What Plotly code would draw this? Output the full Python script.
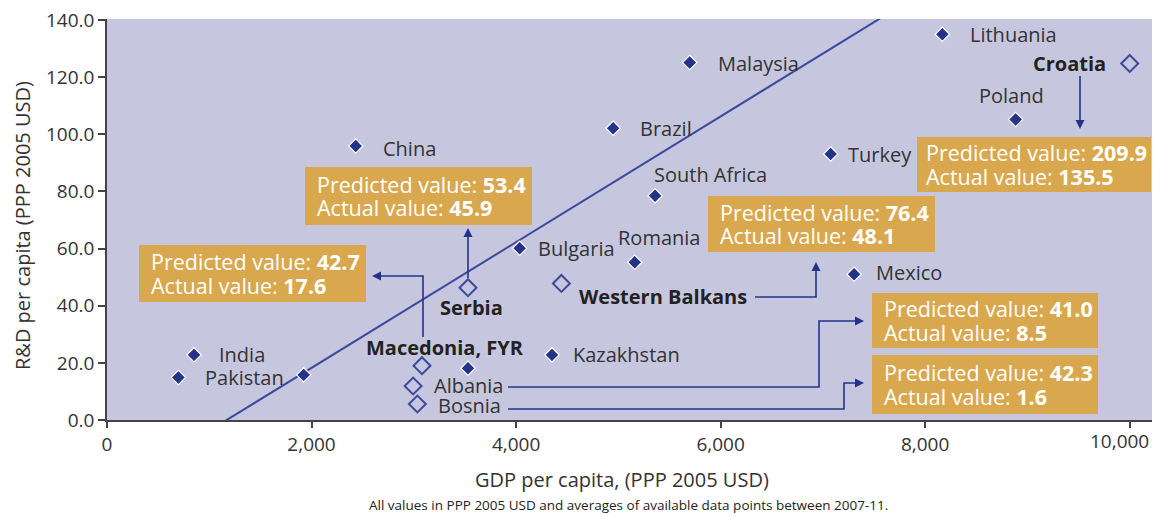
import plotly.graph_objects as go

# ---------------- data ----------------
bench_names = ["China", "India", "Pakistan", "", "Malaysia", "Brazil", "South Africa",
               "Bulgaria", "Romania", "Kazakhstan", "", "Lithuania", "Poland", "Turkey", "Mexico"]
bench_gdp = [2432, 851, 698, 1923, 5698, 4949, 5359, 4035, 5160, 4351, 3530, 8168, 8885, 7076, 7305]
bench_rnd = [95.9, 22.8, 14.9, 15.8, 125.1, 102.1, 78.5, 60.1, 55.2, 22.8, 18.1, 135.0, 105.2, 93.1, 51.0]

wb_names = ["Croatia", "Serbia", "Western Balkans", "Macedonia, FYR", "Albania", "Bosnia"]
wb_gdp = [10000, 3530, 4443, 3080, 2993, 3035]
wb_rnd = [124.8, 46.3, 47.8, 19.0, 11.9, 5.6]
wb_predicted = [209.9, 53.4, 76.4, 42.7, 41.0, 42.3]
wb_actual = [135.5, 45.9, 48.1, 17.6, 8.5, 1.6]

trend_slope = 0.022
trend_intercept = -25.75
trend_x = [1000, 8000]

x_ticks = [0, 2000, 4000, 6000, 8000, 10000]
x_tick_labels = ["0", "2,000", "4,000", "6,000", "8,000", "10,000"]
y_ticks = [0, 20, 40, 60, 80, 100, 120, 140]

# ---------------- style ----------------
FONT = "Open Sans"
NAVY = "#24338A"
LINE = "#3C4A9E"
GOLD = "#D9A84E"
BG = "#C6C7DE"
TXT = "#333333"

PAGE_W, PAGE_H = 1160, 517
OFF = 8                               # default body margin of the html page
W, H = PAGE_W - OFF, PAGE_H - OFF
PL, PR, PT, PB = 107, 1152, 19, 420   # plot area in page pixels


def px(x):
    return (x - PL) / (PR - PL)


def py(y):
    return (PB - y) / (PB - PT)


fig = go.Figure()

trend_y = [trend_intercept + trend_slope * v for v in trend_x]
fig.add_trace(go.Scatter(x=trend_x, y=trend_y, mode="lines",
                         line=dict(color=LINE, width=2), hoverinfo="skip", showlegend=False))

fig.add_trace(go.Scatter(x=bench_gdp, y=bench_rnd, mode="markers", text=bench_names,
                         marker=dict(symbol="diamond", size=11, color=NAVY,
                                     line=dict(color="white", width=1.2)),
                         showlegend=False))
fig.add_trace(go.Scatter(x=wb_gdp, y=wb_rnd, mode="markers", text=wb_names,
                         marker=dict(symbol="diamond-open", size=13, color=LINE,
                                     line=dict(color=LINE, width=2)),
                         showlegend=False))

annotations = []

# country labels: (xanchor, xshift, yshift)
label_pos = {
    "China": ("left", 25, -2),
    "India": ("left", 23, 0),
    "Pakistan": ("left", 25, 0),
    "Malaysia": ("left", 26, -1),
    "Brazil": ("left", 25, 0),
    "South Africa": ("left", -3, 21),
    "Bulgaria": ("left", 16, 0),
    "Romania": ("left", -19, 25),
    "Kazakhstan": ("left", 19, 0),
    "Lithuania": ("left", 26, 0),
    "Poland": ("center", -4, 24),
    "Turkey": ("left", 15, 0),
    "Mexico": ("left", 20, 2),
    "Croatia": ("right", -22, 0),
    "Serbia": ("center", 3, -20),
    "Western Balkans": ("left", 16, -13),
    "Macedonia, FYR": ("center", 23, 18),
    "Albania": ("left", 19, 1),
    "Bosnia": ("left", 19, -1),
}

for names, xs, ys, bold in [(bench_names, bench_gdp, bench_rnd, False),
                            (wb_names, wb_gdp, wb_rnd, True)]:
    for n, xv, yv in zip(names, xs, ys):
        if not n:
            continue
        bold_this = bold and n not in ("Albania", "Bosnia")
        xa, xs_, ys_ = label_pos[n]
        annotations.append(dict(
            x=xv, y=yv, xref="x", yref="y", text=f"<b>{n}</b>" if bold_this else n,
            showarrow=False, xanchor=xa, yanchor="middle", xshift=xs_, yshift=ys_,
            font=dict(family=FONT, size=20, color="#222" if bold_this else TXT)))

# callout boxes (page-pixel rectangles) in order of wb_names
box_rects = [(917, 137, 1151, 192), (305, 167, 532, 225), (708, 196, 935, 252),
             (139, 245, 366, 302), (872, 293, 1098, 348), (872, 355, 1098, 414)]
text_pad = [7, 10, 10, 10, 10, 10]

shapes = []
for (x0, y0, x1, y1), pad, pv, av in zip(box_rects, text_pad, wb_predicted, wb_actual):
    shapes.append(dict(type="rect", xref="paper", yref="paper",
                       x0=px(x0), x1=px(x1), y0=py(y1), y1=py(y0),
                       fillcolor=GOLD, line=dict(width=0), layer="above"))
    cy = (y0 + y1) / 2
    for txt, yy in [(f"Predicted value: <b>{pv:.1f}</b>", cy - 12),
                    (f"Actual value: <b>{av:.1f}</b>", cy + 12)]:
        annotations.append(dict(x=px(x0 + pad), y=py(yy), xref="paper", yref="paper",
                                text=txt, showarrow=False, xanchor="left", yanchor="middle",
                                font=dict(family=FONT, size=21.5, color="white")))

# connector arrows (page-pixel polylines) + heads
arrows = [
    ([(1080, 76), (1080, 121)], "down", (1080, 129)),
    ([(468, 278), (468, 236)], "up", (468, 228)),
    ([(755, 297), (816, 297), (816, 270)], "up", (816, 262)),
    ([(423, 337), (423, 276), (380, 276)], "left", (372, 276)),
    ([(508, 387), (819, 387), (819, 321), (856, 321)], "right", (864, 321)),
    ([(508, 409), (844, 409), (844, 383), (856, 383)], "right", (864, 383)),
]


def P(x, y):
    return f"{px(x):.5f},{py(y):.5f}"


for pts, d, (tx, ty) in arrows:
    path = "M " + " L ".join(P(x, y) for x, y in pts)
    shapes.append(dict(type="path", xref="paper", yref="paper", path=path,
                       line=dict(color=NAVY, width=1.6), layer="above"))
    L, hw = 9, 4.5
    if d == "up":
        tri = [(tx, ty), (tx - hw, ty + L), (tx + hw, ty + L)]
    elif d == "down":
        tri = [(tx, ty), (tx - hw, ty - L), (tx + hw, ty - L)]
    elif d == "left":
        tri = [(tx, ty), (tx + L, ty - hw), (tx + L, ty + hw)]
    else:
        tri = [(tx, ty), (tx - L, ty - hw), (tx - L, ty + hw)]
    shapes.append(dict(type="path", xref="paper", yref="paper",
                       path="M " + " L ".join(P(x, y) for x, y in tri) + " Z",
                       fillcolor=NAVY, line=dict(width=0), layer="above"))

# last x tick label is nudged left so it stays inside the page (as in the reference)
tick_text_shown = x_tick_labels[:-1] + [""]
annotations.append(dict(x=x_ticks[-1], y=py(441), xref="x", yref="paper",
                        text=x_tick_labels[-1], showarrow=False, xanchor="center",
                        yanchor="middle", xshift=-10,
                        font=dict(family=FONT, size=19, color=TXT)))

# axis titles and note
annotations.append(dict(x=px(622), y=py(479), xref="paper", yref="paper",
                        text="GDP per capita, (PPP 2005 USD)", showarrow=False,
                        xanchor="center", yanchor="middle",
                        font=dict(family=FONT, size=20, color=TXT)))
annotations.append(dict(x=px(628), y=py(505), xref="paper", yref="paper",
                        text="All values in PPP 2005 USD and averages of available data points between 2007-11.",
                        showarrow=False, xanchor="center", yanchor="middle",
                        font=dict(family=FONT, size=13.5, color="#222")))
annotations.append(dict(x=px(23), y=py(226), xref="paper", yref="paper",
                        text="R&D per capita (PPP 2005 USD)", showarrow=False, textangle=-90,
                        xanchor="center", yanchor="middle",
                        font=dict(family=FONT, size=20, color=TXT)))

fig.update_layout(
    width=W, height=H,
    margin=dict(l=PL - OFF, r=PAGE_W - PR, t=PT - OFF, b=PAGE_H - PB, autoexpand=False),
    paper_bgcolor="white", plot_bgcolor=BG,
    shapes=shapes, annotations=annotations,
    xaxis=dict(range=[0, 10218], tickvals=x_ticks, ticktext=tick_text_shown, showgrid=False,
               zeroline=False, showline=True, linecolor="#444", linewidth=1.5,
               ticks="outside", ticklen=6, tickcolor="#444", tickwidth=1.5,
               ticklabeloverflow="allow", automargin=False,
               tickfont=dict(family=FONT, size=19, color=TXT)),
    yaxis=dict(range=[0, 140.35], tickvals=y_ticks, tickformat=".1f", showgrid=False,
               zeroline=False, showline=True, linecolor="#444", linewidth=1.5,
               ticks="outside", ticklen=7, tickcolor="#444", tickwidth=1.5,
               ticklabeloverflow="allow", automargin=False,
               tickfont=dict(family=FONT, size=19, color=TXT)),
    hovermode="closest",
)

fig.write_html("out.html")
